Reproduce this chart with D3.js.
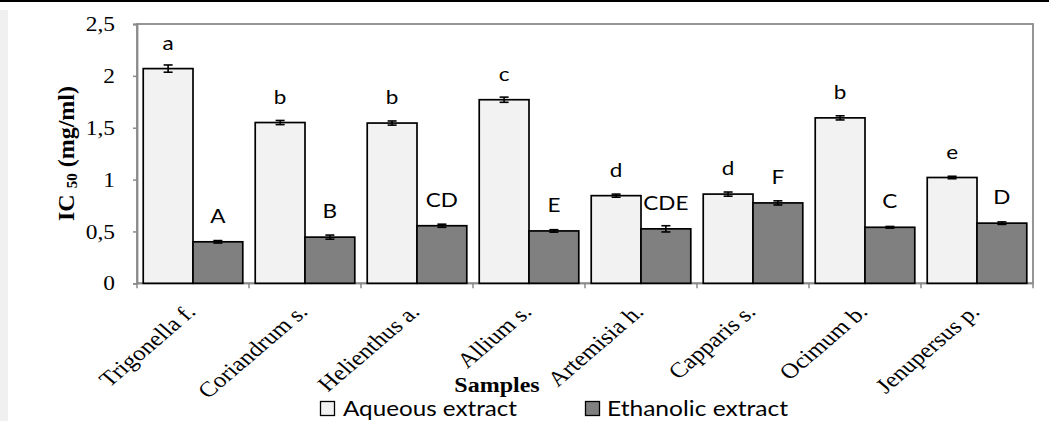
<!DOCTYPE html>
<html><head><meta charset="utf-8">
<script src="https://cdn.jsdelivr.net/npm/d3@7"></script>
<style>html,body{margin:0;padding:0;background:#fff;}svg{display:block;}</style>
</head><body>
<svg id="chart" width="1049" height="421"></svg>
<script>
const categories = ["Trigonella f.","Coriandrum s.","Helienthus a.","Allium s.","Artemisia h.","Capparis s.","Ocimum b.","Jenupersus p."];
const seriesNames = ["Aqueous extract","Ethanolic extract"];
const aqueous = [2.07,1.55,1.545,1.77,0.845,0.86,1.595,1.02];
const ethanolic = [0.40,0.445,0.555,0.505,0.525,0.775,0.54,0.58];
const aqueousErr = [0.035,0.02,0.02,0.025,0.015,0.02,0.02,0.012];
const ethanolicErr = [0.012,0.02,0.015,0.012,0.03,0.02,0.008,0.012];
const aqueousLetters = ["a","b","b","c","d","d","b","e"];
const ethanolicLetters = ["A","B","CD","E","CDE","F","C","D"];
const yTicks = [0,0.5,1,1.5,2,2.5];
const yTickLabels = ["0","0,5","1","1,5","2","2,5"];

const svg = d3.select("#chart");
const L = 137, R = 1033, T = 24, B = 283.3;
const colors = ["#f2f2f2","#808080"];
const SQ = 0.855;
const serif = "'Liberation Serif','Times New Roman',serif";
const sans = "Lato,'Open Sans',sans-serif";

svg.append("rect").attr("x",0).attr("y",0).attr("width",1049).attr("height",2).attr("fill","#000");
svg.append("rect").attr("x",0).attr("y",10).attr("width",8).attr("height",411).attr("fill","#f0f0f0");

const y = d3.scaleLinear().domain([0,2.5]).range([B,T]);
const p = 0.25/2.25;
const x = d3.scaleBand().domain(categories).range([L,R]).paddingInner(p).paddingOuter(p/2);
const xs = d3.scaleBand().domain(seriesNames).range([0,x.bandwidth()]);

// frame
svg.append("rect").attr("x",L).attr("y",T).attr("width",R-L).attr("height",B-T)
  .attr("fill","none").attr("stroke","#8a8a8a").attr("stroke-width",1.8);

// y axis
const yAxis = d3.axisLeft(y).tickValues(yTicks).tickSize(4).tickFormat((d,i)=>yTickLabels[i]);
const gy = svg.append("g").attr("transform",`translate(${L},0)`).call(yAxis);
gy.select(".domain").attr("stroke","#8a8a8a").attr("stroke-width",1.8);
gy.selectAll(".tick line").attr("stroke","#8a8a8a").attr("stroke-width",1.5);
gy.selectAll(".tick text").attr("x",0).attr("dy","0.33em")
  .attr("transform",`translate(-22,0) scale(1,${SQ})`)
  .style("font-family",serif).style("font-size","23.4px").attr("fill","#000");

// x axis: ticks at category boundaries
const step = x.step();
const gx = svg.append("g").attr("transform",`translate(0,${B})`);
gx.append("line").attr("x1",L).attr("x2",R).attr("y1",0).attr("y2",0).attr("stroke","#8a8a8a").attr("stroke-width",1.8);
const bounds = categories.map((c,i)=>x(c)-x.paddingOuter()*step).concat([R]);
gx.selectAll("line.tk").data(bounds).join("line").attr("class","tk")
  .attr("x1",d=>d).attr("x2",d=>d).attr("y1",0).attr("y2",5).attr("stroke","#8a8a8a").attr("stroke-width",1.5);
gx.selectAll("text.cat").data(categories).join("text").attr("class","cat")
  .attr("text-anchor","end")
  .attr("transform",d=>`translate(${x(d)+x.bandwidth()/2+4},${313-B}) scale(1,${SQ}) rotate(-45)`)
  .style("font-family",serif).style("font-size","25px")
  .text(d=>d);

// bars
const data = categories.map((c,i)=>({c, vals:[
  {s:seriesNames[0], v:aqueous[i], e:aqueousErr[i], l:aqueousLetters[i], k:0},
  {s:seriesNames[1], v:ethanolic[i], e:ethanolicErr[i], l:ethanolicLetters[i], k:1}]}));
const g = svg.selectAll("g.grp").data(data).join("g").attr("class","grp")
  .attr("transform",d=>`translate(${x(d.c)},0)`);
g.selectAll("rect").data(d=>d.vals).join("rect")
  .attr("x",d=>xs(d.s)).attr("width",xs.bandwidth())
  .attr("y",d=>y(d.v)).attr("height",d=>B-y(d.v))
  .attr("fill",d=>colors[d.k]).attr("stroke","#000").attr("stroke-width",1.7);
// error bars
const eb = g.selectAll("g.eb").data(d=>d.vals).join("g").attr("class","eb")
  .attr("stroke","#000").attr("stroke-width",1.6);
const cxs = d=>xs(d.s)+xs.bandwidth()/2;
eb.append("line").attr("x1",cxs).attr("x2",cxs)
  .attr("y1",d=>y(d.v+d.e)).attr("y2",d=>y(d.v-d.e));
eb.append("line").attr("x1",d=>cxs(d)-4.5).attr("x2",d=>cxs(d)+4.5)
  .attr("y1",d=>y(d.v+d.e)).attr("y2",d=>y(d.v+d.e));
eb.append("line").attr("x1",d=>cxs(d)-4.5).attr("x2",d=>cxs(d)+4.5)
  .attr("y1",d=>y(d.v-d.e)).attr("y2",d=>y(d.v-d.e));
// letters
g.selectAll("text.lt").data(d=>d.vals).join("text").attr("class","lt")
  .attr("transform",d=>`translate(${cxs(d)},${y(d.v)-19}) scale(1,0.88)`)
  .attr("text-anchor","middle")
  .style("font-family",sans).style("font-size","22.5px")
  .text(d=>d.l);

// y title
const yt = svg.append("text").attr("transform","translate(74,153.5) rotate(-90)")
  .attr("text-anchor","middle")
  .style("font-family",serif).style("font-size","24px").style("font-weight","bold");
yt.append("tspan").text("IC ");
yt.append("tspan").style("font-size","15px").attr("dy",3).text("50");
yt.append("tspan").attr("dy",-3).text(" (mg/ml)");

// x title
svg.append("text").attr("transform",`translate(497,392) scale(1,${SQ})`).attr("text-anchor","middle")
  .style("font-family",serif).style("font-size","24px").style("font-weight","bold")
  .text("Samples");

// legend
const legX = [320,585];
const legW = [174,181];
const lg = svg.selectAll("g.leg").data(seriesNames).join("g").attr("class","leg")
  .attr("transform",(d,i)=>`translate(${legX[i]},401)`);
lg.append("rect").attr("x",0.5).attr("y",0.5).attr("width",14).attr("height",14)
  .attr("fill",(d,i)=>colors[i]).attr("stroke","#000").attr("stroke-width",1.3);
lg.append("text").attr("transform",(d,i)=>`translate(${i===0?23:22},14.5) scale(1,${SQ})`)
  .attr("textLength",(d,i)=>legW[i]).attr("lengthAdjust","spacingAndGlyphs")
  .style("font-family",sans).style("font-size","24.5px")
  .text(d=>d);
</script>
</body></html>
